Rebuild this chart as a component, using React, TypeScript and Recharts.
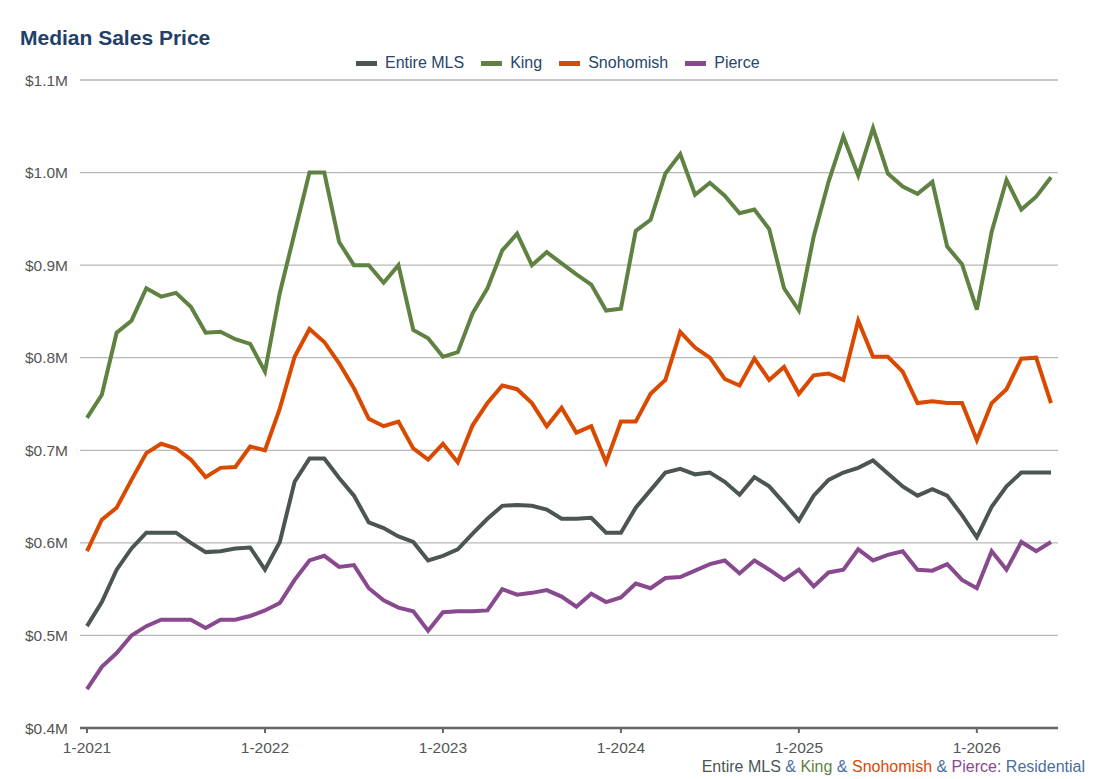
import React from "react";
import { LineChart, Line, XAxis, YAxis, CartesianGrid } from "recharts";

const months = [
  "1-2021","2-2021","3-2021","4-2021","5-2021","6-2021","7-2021","8-2021","9-2021","10-2021","11-2021","12-2021",
  "1-2022","2-2022","3-2022","4-2022","5-2022","6-2022","7-2022","8-2022","9-2022","10-2022","11-2022","12-2022",
  "1-2023","2-2023","3-2023","4-2023","5-2023","6-2023","7-2023","8-2023","9-2023","10-2023","11-2023","12-2023",
  "1-2024","2-2024","3-2024","4-2024","5-2024","6-2024","7-2024","8-2024","9-2024","10-2024","11-2024","12-2024",
  "1-2025","2-2025","3-2025","4-2025","5-2025","6-2025","7-2025","8-2025","9-2025","10-2025","11-2025","12-2025",
  "1-2026","2-2026","3-2026","4-2026","5-2026","6-2026",
];

const xTicks = ["1-2021", "1-2022", "1-2023", "1-2024", "1-2025", "1-2026"];
const yTicks = [0.4, 0.5, 0.6, 0.7, 0.8, 0.9, 1.0, 1.1];

// Median sales price, $ millions
const entireMLS = [
  0.510, 0.536, 0.571, 0.594, 0.611, 0.611, 0.611, 0.600, 0.590, 0.591, 0.594, 0.595,
  0.571, 0.601, 0.666, 0.691, 0.691, 0.670, 0.651, 0.622, 0.616, 0.607, 0.601, 0.581,
  0.586, 0.593, 0.610, 0.626, 0.640, 0.641, 0.640, 0.636, 0.626, 0.626, 0.627, 0.611,
  0.611, 0.638, 0.657, 0.676, 0.680, 0.674, 0.676, 0.666, 0.652, 0.671, 0.661, 0.643,
  0.624, 0.651, 0.668, 0.676, 0.681, 0.689, 0.675, 0.661, 0.651, 0.658, 0.651, 0.630,
  0.606, 0.639, 0.661, 0.676, 0.676, 0.676,
];

const king = [
  0.735, 0.760, 0.827, 0.840, 0.875, 0.866, 0.870, 0.855, 0.827, 0.828, 0.820, 0.815,
  0.785, 0.870, 0.935, 1.000, 1.000, 0.925, 0.900, 0.900, 0.881, 0.900, 0.830, 0.821,
  0.801, 0.806, 0.848, 0.875, 0.916, 0.934, 0.900, 0.914, 0.902, 0.890, 0.879, 0.851,
  0.853, 0.937, 0.949, 0.999, 1.020, 0.976, 0.989, 0.975, 0.956, 0.960, 0.939, 0.875,
  0.851, 0.931, 0.990, 1.039, 0.997, 1.048, 0.999, 0.985, 0.977, 0.990, 0.920, 0.901,
  0.852, 0.936, 0.992, 0.960, 0.974, 0.995,
];

const snohomish = [
  0.591, 0.625, 0.638, 0.668, 0.697, 0.707, 0.702, 0.690, 0.671, 0.681, 0.682, 0.704,
  0.700, 0.745, 0.801, 0.831, 0.817, 0.794, 0.767, 0.734, 0.726, 0.731, 0.702, 0.690,
  0.707, 0.687, 0.727, 0.751, 0.770, 0.766, 0.751, 0.726, 0.746, 0.719, 0.726, 0.687,
  0.731, 0.731, 0.761, 0.776, 0.828, 0.811, 0.800, 0.777, 0.770, 0.799, 0.776, 0.790,
  0.761, 0.781, 0.783, 0.776, 0.840, 0.801, 0.801, 0.785, 0.751, 0.753, 0.751, 0.751,
  0.711, 0.751, 0.766, 0.799, 0.800, 0.751,
];

const pierce = [
  0.442, 0.466, 0.481, 0.500, 0.510, 0.517, 0.517, 0.517, 0.508, 0.517, 0.517, 0.521,
  0.527, 0.535, 0.560, 0.581, 0.586, 0.574, 0.576, 0.551, 0.538, 0.530, 0.526, 0.505,
  0.525, 0.526, 0.526, 0.527, 0.550, 0.544, 0.546, 0.549, 0.542, 0.531, 0.545, 0.536,
  0.541, 0.556, 0.551, 0.562, 0.563, 0.570, 0.577, 0.581, 0.567, 0.581, 0.571, 0.560,
  0.571, 0.553, 0.568, 0.571, 0.593, 0.581, 0.587, 0.591, 0.571, 0.570, 0.577, 0.560,
  0.551, 0.591, 0.571, 0.601, 0.591, 0.601,
];

const seriesNames = ["Entire MLS", "King", "Snohomish", "Pierce"];
const seriesKeys = ["mls", "king", "snohomish", "pierce"];
const seriesColors = ["#4b5654", "#5f8243", "#d94a00", "#88498f"];

const data = months.map((m, i) => ({
  month: m,
  mls: entireMLS[i],
  king: king[i],
  snohomish: snohomish[i],
  pierce: pierce[i],
}));

const FONT = '"Liberation Sans", Arial, Helvetica, sans-serif';
const NAVY = "#28466b";
const AMP = "#4a6f9e";

export default function App() {
  return (
    <div
      style={{
        position: "absolute",
        left: 0,
        top: 0,
        width: 1094,
        height: 779,
        background: "#fff",
        fontFamily: FONT,
      }}
    >
      <div
        style={{
          position: "absolute",
          left: 20,
          top: 27,
          fontSize: 21,
          lineHeight: 1,
          fontWeight: "bold",
          color: "#1f4068",
          whiteSpace: "nowrap",
        }}
      >
        Median Sales Price
      </div>

      <div
        style={{
          position: "absolute",
          left: 356,
          top: 55,
          height: 16,
          display: "flex",
          alignItems: "center",
          fontSize: 16,
          lineHeight: 1,
          color: NAVY,
          whiteSpace: "nowrap",
        }}
      >
        {seriesNames.map((name, i) => (
          <div key={name} style={{ display: "flex", alignItems: "center", marginRight: 17 }}>
            <div style={{ width: 21, height: 5, background: seriesColors[i], marginRight: 8 }} />
            <span>{name}</span>
          </div>
        ))}
      </div>

      <LineChart
        width={1094}
        height={779}
        data={data}
        margin={{ top: 80, right: 36, left: 10, bottom: 21 }}
      >
        <CartesianGrid vertical={false} stroke="#b8b8b8" strokeWidth={1.3} />
        <XAxis
          dataKey="month"
          ticks={xTicks}
          interval={0}
          padding={{ left: 7, right: 7 }}
          axisLine={{ stroke: "#666", strokeWidth: 2.5 }}
          tickLine={{ stroke: "#666", strokeWidth: 2 }}
          tickSize={5}
          tickMargin={9}
          height={30}
          tick={{ fill: "#555", fontSize: 15.5, fontFamily: FONT }}
        />
        <YAxis
          type="number"
          domain={[0.4, 1.1]}
          ticks={yTicks}
          interval={0}
          width={70}
          axisLine={false}
          tickLine={false}
          tickSize={0}
          tickMargin={12}
          tickFormatter={(v: number) => `$${v.toFixed(1)}M`}
          tick={{ fill: "#555", fontSize: 15.5, fontFamily: FONT }}
        />
        {seriesKeys.map((k, i) => (
          <Line
            key={k}
            type="linear"
            dataKey={k}
            name={seriesNames[i]}
            stroke={seriesColors[i]}
            strokeWidth={4}
            dot={false}
            activeDot={false}
            isAnimationActive={false}
          />
        ))}
      </LineChart>

      <div
        style={{
          position: "absolute",
          right: 9,
          top: 759,
          fontSize: 16,
          lineHeight: 1,
          whiteSpace: "nowrap",
          color: AMP,
        }}
      >
        <span style={{ color: seriesColors[0] }}>Entire MLS</span>
        {" & "}
        <span style={{ color: seriesColors[1] }}>King</span>
        {" & "}
        <span style={{ color: seriesColors[2] }}>Snohomish</span>
        {" & "}
        <span style={{ color: seriesColors[3] }}>Pierce:</span>
        {" Residential"}
      </div>
    </div>
  );
}
